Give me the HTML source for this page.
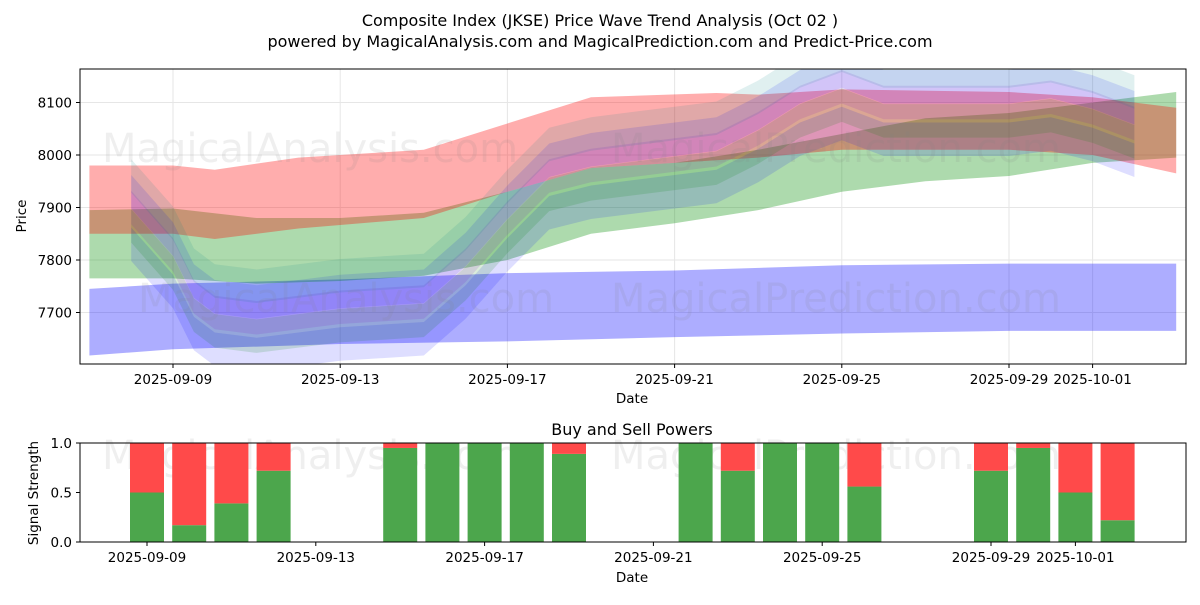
<!DOCTYPE html>
<html><head><meta charset="utf-8"><style>
body{margin:0;background:#fff;font-family:"Liberation Sans","DejaVu Sans",sans-serif}
svg text{font-family:"DejaVu Sans","Liberation Sans",sans-serif}
</style></head><body>
<svg id="c" width="1200" height="600" xmlns="http://www.w3.org/2000/svg" style="background:#fff">
<defs><clipPath id="plotclip"><rect x="80" y="69" width="1106" height="295"/></clipPath></defs>
<text x="600" y="26" font-size="16" text-anchor="middle">Composite Index (JKSE) Price Wave Trend Analysis (Oct 02 )</text>
<text x="600" y="47" font-size="16" text-anchor="middle">powered by MagicalAnalysis.com and MagicalPrediction.com and Predict-Price.com</text>
<g id="topg"></g>
<g id="bandsg" clip-path="url(#plotclip)"></g>
<g id="botg"></g>
</svg>
<script>
// top chart data (day offsets from 2025-09-09)
const priceTicks=[7700,7800,7900,8000,8100];
const dateTickLabels=["2025-09-09","2025-09-13","2025-09-17","2025-09-21","2025-09-25","2025-09-29","2025-10-01"];
const dateTickDays=[0,4,8,12,16,20,22];
const redDays=[-2,0,1,3,6,8,10,13,14,16,20,22,24];
const redUpper=[7980,7980,7972,7995,8010,8060,8110,8118,8115,8125,8120,8110,8090];
const redLower=[7850,7850,7840,7860,7880,7930,7975,7990,7995,8010,8010,8000,7965];
const greenDays=[-2,0,2,4,6,8,10,12,14,16,18,20,22,24];
const greenUpper=[7895,7898,7880,7880,7890,7930,7975,7985,8010,8040,8070,8080,8100,8120];
const greenLower=[7765,7765,7755,7760,7770,7800,7850,7870,7895,7930,7950,7960,7985,7995];
const blueDays=[-2,0,4,8,12,16,20,24];
const blueUpper=[7745,7755,7763,7775,7780,7790,7793,7793];
const blueLower=[7618,7630,7640,7645,7653,7660,7665,7665];
const waveDays=[-1,0,0.5,1,2,4,6,7,8,9,10,12,13,14,15,16,17,18,20,21,22,23];
const waveMid=[7890,7800,7720,7690,7680,7700,7710,7780,7870,7950,7970,7990,8000,8040,8090,8120,8090,8090,8090,8100,8080,8050];
const waveShift=[-60,-25,10,40,70];
const waveColors=["rgba(0,0,255,0.13)","rgba(0,128,0,0.14)","rgba(120,0,200,0.12)","rgba(0,0,255,0.12)","rgba(0,128,128,0.12)"];
// bottom chart data
const barDays=[0,1,2,3,6,7,8,9,10,13,14,15,16,17,20,21,22,23];
const buyPower=[0.5,0.17,0.39,0.72,0.95,1.0,1.0,1.0,0.89,1.0,0.72,1.0,1.0,0.56,0.72,0.95,0.5,0.22];
const strengthTicks=[0.0,0.5,1.0];

const NS="http://www.w3.org/2000/svg";
function mk(tag,attrs,parent){const e=document.createElementNS(NS,tag);for(const k in attrs)e.setAttribute(k,attrs[k]);parent.appendChild(e);return e;}
const gTop=document.getElementById('topg'),gBot=document.getElementById('botg'),gBands=document.getElementById('bandsg');
const X=d=>173+41.8*d, Y=v=>155-(v-8000)*0.525;
const X2=d=>147+42.2*d, Y2=v=>542-v*99;
const FS=13.5;

for(const t of priceTicks){const l=mk('line',{x1:80,x2:1186,y1:Y(t),y2:Y(t),stroke:'#e6e6e6'},gTop);
 
 
 const tx=mk('text',{x:72,y:Y(t)+5,'font-size':FS,'text-anchor':'end'},gTop);tx.textContent=t;
 
 
 mk('line',{x1:76,x2:80,y1:Y(t),y2:Y(t),stroke:'#000'},gTop);}
dateTickDays.forEach((d,i)=>{const l=mk('line',{x1:X(d),x2:X(d),y1:69,y2:364,stroke:'#e6e6e6'},gTop);
 
 
 mk('line',{x1:X(d),x2:X(d),y1:364,y2:368,stroke:'#000'},gTop);
 const tx=mk('text',{x:X(d),y:384,'font-size':FS,'text-anchor':'middle'},gTop);tx.textContent=dateTickLabels[i];
 
 });

function band(days,up,lo,fill,name,g,xf,yf){let p=days.map((d,i)=>xf(d)+','+yf(up[i]));for(let i=days.length-1;i>=0;i--)p.push(xf(days[i])+','+yf(lo[i]));
 const e=mk('polygon',{points:p.join(' '),fill:fill},g);
 
 }
band(blueDays,blueUpper,blueLower,'rgba(0,0,255,0.32)','blue-band',gBands,X,Y);
band(greenDays,greenUpper,greenLower,'rgba(0,140,0,0.32)','green-band',gBands,X,Y);
band(redDays,redUpper,redLower,'rgba(255,0,0,0.32)','red-band',gBands,X,Y);
waveShift.forEach((s,k)=>{const up=waveMid.map(v=>v+s+32),lo=waveMid.map(v=>v+s-32);band(waveDays,up,lo,waveColors[k],'wave-band',gBands,X,Y);});

[[310,148,'MagicalAnalysis.com'],[836,148,'MagicalPrediction.com'],[346,298,'MagicalAnalysis.com'],[836,298,'MagicalPrediction.com'],[310,455,'MagicalAnalysis.com'],[836,455,'MagicalPrediction.com']].forEach(w=>{const t=mk('text',{x:w[0],y:w[1]+14,'font-size':40,'text-anchor':'middle',fill:'rgba(128,128,128,0.13)'},gBot);t.textContent=w[2];
 
 });

const fr=mk('rect',{x:80,y:69,width:1106,height:295,fill:'none',stroke:'#000'},gBot);


let t=mk('text',{x:632,y:403,'font-size':FS,'text-anchor':'middle'},gTop);t.textContent='Date';


t=mk('text',{x:26,y:216,'font-size':FS,'text-anchor':'middle',transform:'rotate(-90 26 216)'},gTop);t.textContent='Price';



t=mk('text',{x:632,y:435,'font-size':16,'text-anchor':'middle'},gBot);t.textContent='Buy and Sell Powers';


barDays.forEach((d,i)=>{const b=buyPower[i];
 const g=mk('rect',{x:X2(d)-17,y:Y2(b),width:34,height:Y2(0)-Y2(b),fill:'#4ca64c'},gBot);
 
 
 const r=mk('rect',{x:X2(d)-17,y:Y2(1),width:34,height:Y2(b)-Y2(1),fill:'#ff4a4a'},gBot);
 
 });
strengthTicks.forEach(s=>{mk('line',{x1:76,x2:80,y1:Y2(s),y2:Y2(s),stroke:'#000'},gBot);const tx=mk('text',{x:72,y:Y2(s)+5,'font-size':FS,'text-anchor':'end'},gBot);tx.textContent=s.toFixed(1);
 
 });
dateTickDays.forEach((d,i)=>{const xd=X2(d);mk('line',{x1:xd,x2:xd,y1:542,y2:546,stroke:'#000'},gBot);const tx=mk('text',{x:xd,y:562,'font-size':FS,'text-anchor':'middle'},gBot);tx.textContent=dateTickLabels[i];
 
 });
const fr2=mk('rect',{x:80,y:443,width:1106,height:99,fill:'none',stroke:'#000'},gBot);


t=mk('text',{x:632,y:582,'font-size':FS,'text-anchor':'middle'},gBot);t.textContent='Date';


t=mk('text',{x:38,y:493,'font-size':FS,'text-anchor':'middle',transform:'rotate(-90 38 493)'},gBot);t.textContent='Signal Strength';


</script>
</body></html>
